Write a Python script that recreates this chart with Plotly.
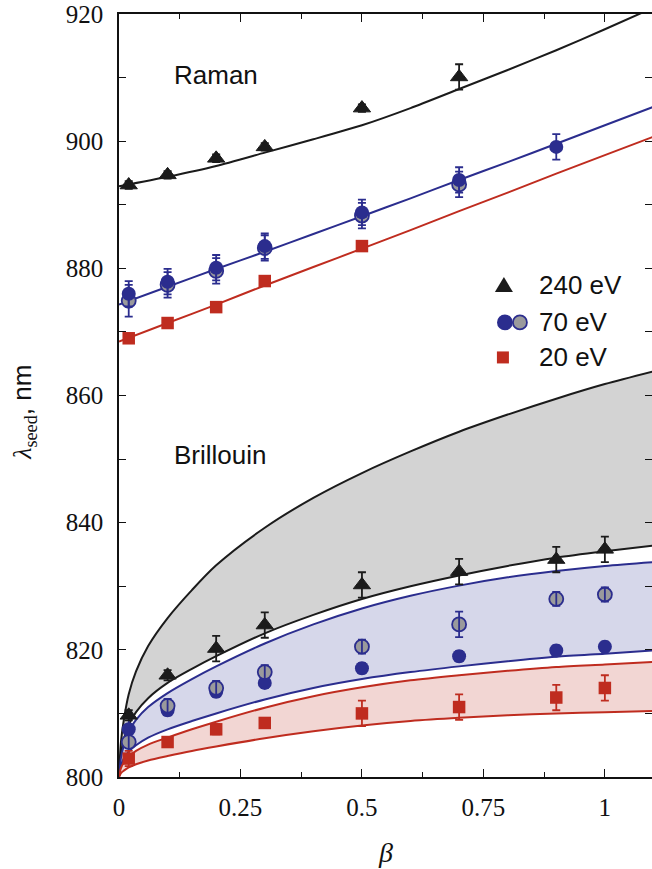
import plotly.graph_objects as go

# ---------------- data ----------------
# Raman measurements
ram_beta_240 = [0.02, 0.1, 0.2, 0.3, 0.5, 0.7]
ram_240 = [893.1, 894.7, 897.3, 899.1, 905.2, 910.1]
ram_240_err = [0.6, 0.6, 0.6, 0.6, 0.6, 2.0]

ram_beta_70 = [0.02, 0.1, 0.2, 0.3, 0.5, 0.7, 0.9]
ram_70 = [876.0, 877.9, 880.1, 883.5, 888.8, 893.9, 899.1]
ram_70_err = [2.0, 2.0, 2.0, 2.0, 2.0, 2.0, 2.0]

ram_beta_70g = [0.02, 0.1, 0.2, 0.3, 0.5, 0.7]
ram_70g = [874.9, 877.4, 879.6, 883.2, 888.3, 893.2]
ram_70g_err = [2.5, 2.0, 2.0, 2.0, 2.0, 2.0]

ram_beta_20 = [0.02, 0.1, 0.2, 0.3, 0.5]
ram_20 = [869.0, 871.4, 873.9, 878.0, 883.5]
ram_20_err = [0.6, 0.6, 0.6, 0.6, 0.6]

# Brillouin measurements
bri_beta = [0.02, 0.1, 0.2, 0.3, 0.5, 0.7, 0.9, 1.0]
bri_240 = [809.7, 816.0, 820.2, 823.9, 830.2, 832.3, 834.2, 835.8]
bri_240_err = [0.8, 0.8, 2.0, 2.0, 2.0, 2.0, 2.0, 2.0]
bri_70 = [807.5, 810.5, 813.4, 814.8, 817.1, 819.0, 819.9, 820.5]
bri_70_err = [1.8, 0.8, 0.8, 0.8, 0.8, 0.8, 0.8, 0.8]
bri_70g = [805.5, 811.2, 814.0, 816.5, 820.5, 824.0, 828.0, 828.7]
bri_70g_err = [2.2, 1.1, 1.1, 1.1, 1.1, 2.0, 1.1, 1.1]
bri_20 = [802.9, 805.5, 807.5, 808.5, 810.0, 811.0, 812.5, 814.0]
bri_20_err = [1.2, 0.8, 0.8, 0.8, 2.0, 2.0, 2.0, 2.0]

# Raman model curves
fit_ram_beta = [0, 0.1, 0.2, 0.3, 0.4, 0.5, 0.6, 0.7, 0.8, 0.9, 1.0, 1.1]
fit_ram_240 = [892.9, 894.4, 896.1, 898.2, 900.3, 902.5, 905.2, 908.2, 911.2, 914.3, 917.6, 921.0]
fit_ram_70 = [874.3, 877.1, 879.9, 882.6, 885.4, 888.2, 891.0, 893.9, 896.7, 899.6, 902.5, 905.4]
fit_ram_20 = [868.5, 871.4, 874.3, 877.3, 880.2, 883.1, 886.0, 889.0, 891.9, 894.9, 897.8, 900.7]

# Brillouin model bands
fit_bri_beta = [0, 0.004, 0.01, 0.02, 0.035, 0.06, 0.1, 0.15, 0.2, 0.3, 0.4, 0.5,
                0.6, 0.7, 0.8, 0.9, 1.0, 1.1]
fit_bri_240_hi = [800, 805.5, 809.0, 813.0, 816.6, 820.6, 825.0, 829.4, 833.3, 839.2, 843.9, 847.8,
                  851.2, 854.3, 857.0, 859.5, 861.8, 863.8]
fit_bri_240_lo = [800, 803.6, 805.8, 808.2, 810.2, 812.4, 814.8, 817.0, 819.0, 822.6, 825.5, 828.0,
                  830.0, 831.7, 833.2, 834.5, 835.5, 836.4]
fit_bri_70_hi = [800, 803.0, 805.0, 807.2, 809.0, 811.0, 813.2, 815.4, 817.4, 821.0, 824.0, 826.5,
                 828.5, 830.1, 831.4, 832.4, 833.2, 833.8]
fit_bri_70_lo = [800, 801.8, 802.9, 804.0, 805.0, 806.2, 807.5, 808.8, 810.0, 812.2, 814.0, 815.4,
                 816.5, 817.4, 818.2, 818.9, 819.4, 819.9]
fit_bri_20_hi = [800, 801.4, 802.3, 803.2, 804.1, 805.1, 806.2, 807.5, 808.7, 810.9, 812.7, 814.1,
                 815.2, 816.0, 816.7, 817.3, 817.7, 818.1]
fit_bri_20_lo = [800, 800.6, 801.0, 801.5, 802.0, 802.6, 803.3, 804.1, 804.8, 806.1, 807.2, 808.1,
                 808.8, 809.3, 809.7, 810.0, 810.2, 810.4]

x_tickvals = [0, 0.25, 0.5, 0.75, 1.0]
x_ticktext = ["0", "0.25", "0.5", "0.75", "1"]
y_tickvals = [800, 820, 840, 860, 880, 900, 920]

legend_labels = ["240 eV", "70 eV", "20 eV"]

# ---------------- style ----------------
BLACK = "#1b1b1b"
BLUE = "#2b2d8e"
RED = "#bf2c1f"
GRAYM = "#9a9a9c"
FILL_K = "#d3d3d3"
FILL_B = "#d6d7ea"
FILL_R = "#f2d6d3"

fig = go.Figure()

def band(lo, hi, color, fill):
    fig.add_trace(go.Scatter(x=fit_bri_beta, y=lo, mode="lines",
                             line=dict(color=color, width=2, shape="spline", smoothing=0.8),
                             hoverinfo="skip", showlegend=False))
    fig.add_trace(go.Scatter(x=fit_bri_beta, y=hi, mode="lines", fill="tonexty",
                             fillcolor=fill,
                             line=dict(color=color, width=2, shape="spline", smoothing=0.8),
                             hoverinfo="skip", showlegend=False))

band(fit_bri_240_lo, fit_bri_240_hi, BLACK, FILL_K)
band(fit_bri_70_lo, fit_bri_70_hi, BLUE, FILL_B)
band(fit_bri_20_lo, fit_bri_20_hi, RED, FILL_R)

for yv, c in [(fit_ram_240, BLACK), (fit_ram_70, BLUE), (fit_ram_20, RED)]:
    fig.add_trace(go.Scatter(x=fit_ram_beta, y=yv, mode="lines",
                             line=dict(color=c, width=2, shape="spline", smoothing=0.6),
                             hoverinfo="skip", showlegend=False))

def pts(x, y, err, symbol, size, fillc, linec, ecolor, lw=0, bars_on_top=False):
    fig.add_trace(go.Scatter(
        x=x, y=y, mode="markers",
        marker=dict(symbol=symbol, size=size, color=fillc,
                    line=dict(color=linec, width=lw)),
        error_y=None if bars_on_top else dict(type="data", array=err, color=ecolor,
                                              thickness=1.8, width=4),
        showlegend=False))
    if bars_on_top:
        fig.add_trace(go.Scatter(
            x=x, y=y, mode="markers",
            marker=dict(size=1, color="rgba(0,0,0,0)"),
            error_y=dict(type="data", array=err, color=ecolor, thickness=1.8, width=4),
            hoverinfo="skip", showlegend=False))

# Raman points
pts(ram_beta_70g, ram_70g, ram_70g_err, "circle", 14, GRAYM, BLUE, BLUE, 1.8, True)
pts(ram_beta_70, ram_70, ram_70_err, "circle", 14, BLUE, BLUE, BLUE)
pts(ram_beta_20, ram_20, ram_20_err, "square", 12.5, RED, RED, RED)
pts(ram_beta_240, ram_240, ram_240_err, "triangle-up", 15, BLACK, BLACK, BLACK, 1)
# Brillouin points
pts(bri_beta, bri_70, bri_70_err, "circle", 14, BLUE, BLUE, BLUE)
pts(bri_beta, bri_70g, bri_70g_err, "circle", 14, GRAYM, BLUE, BLUE, 1.8, True)
pts(bri_beta, bri_20, bri_20_err, "square", 12.5, RED, RED, RED)
pts(bri_beta, bri_240, bri_240_err, "triangle-up", 15, BLACK, BLACK, BLACK, 1)

# ---------------- layout ----------------
W, H = 652, 869
L, R, T, B = 119.3, 0, 14, 92.3
pw, ph = W - L - R, H - T - B

def px(xp):
    return (xp - L) / pw

def py(yp):
    return (H - B - yp) / ph

sans = "Liberation Sans, Arial, sans-serif"
serif = "Liberation Serif, Times New Roman, serif"

annotations = [
    dict(x=0.199, y=910.4, xref="x", yref="y", text="Raman", showarrow=False,
         xanchor="center", yanchor="middle",
         font=dict(family=sans, size=26, color="#111")),
    dict(x=0.208, y=850.6, xref="x", yref="y", text="Brillouin", showarrow=False,
         xanchor="center", yanchor="middle",
         font=dict(family=sans, size=26, color="#111")),
    dict(x=px(386), y=py(852), xref="paper", yref="paper", text="<i>β</i>", showarrow=False,
         xanchor="center", yanchor="middle",
         font=dict(family=serif, size=28, color="#111")),
    dict(x=px(24), y=py(412), xref="paper", yref="paper", textangle=-90, showarrow=False,
         xanchor="center", yanchor="middle",
         text="<i>λ</i><sub>seed</sub><span style='font-family:Liberation Sans'>, nm</span>",
         font=dict(family=serif, size=26, color="#111")),
]
leg_y = [285, 322.3, 357.3]
for lab, yy in zip(legend_labels, leg_y):
    annotations.append(dict(x=px(537), y=py(yy), xref="paper", yref="paper", text=lab,
                            xanchor="left", yanchor="middle", showarrow=False,
                            font=dict(family=sans, size=26, color="#111")))

shapes = []
# triangle legend key
tx, ty = 504, 285
shapes.append(dict(type="path", xref="paper", yref="paper",
                   path=f"M {px(tx-9)},{py(ty+7)} L {px(tx+9)},{py(ty+7)} L {px(tx)},{py(ty-8)} Z",
                   fillcolor=BLACK, line=dict(width=0)))
# circles
for cx, fc in [(505, BLUE), (520, GRAYM)]:
    shapes.append(dict(type="circle", xref="paper", yref="paper",
                       x0=px(cx-7), x1=px(cx+7), y0=py(322.3+7), y1=py(322.3-7),
                       fillcolor=fc, line=dict(color=BLUE, width=1.8)))
# square
shapes.append(dict(type="rect", xref="paper", yref="paper",
                   x0=px(503-6), x1=px(503+6), y0=py(357.3+6), y1=py(357.3-6),
                   fillcolor=RED, line=dict(width=0)))

fig.update_layout(
    width=W, height=H,
    margin=dict(l=L, r=R, t=T, b=B, pad=0),
    plot_bgcolor="white", paper_bgcolor="white",
    showlegend=False,
    annotations=annotations, shapes=shapes,
    xaxis=dict(range=[0, 1.097], tickvals=x_tickvals, ticktext=x_ticktext,
               ticks="inside", ticklen=8, tickwidth=1.3, tickcolor="#111",
               minor=dict(dtick=0.125, tick0=0, ticks="inside", ticklen=5, tickwidth=1.3, tickcolor="#111"),
               showline=True, linecolor="#111", linewidth=1.5, mirror="ticks",
               showgrid=False, zeroline=False, ticklabelstandoff=7,
               tickfont=dict(family=serif, size=25, color="#111")),
    yaxis=dict(range=[800, 920], tickvals=y_tickvals,
               ticks="inside", ticklen=7, tickwidth=1.3, tickcolor="#111",
               minor=dict(dtick=10, tick0=800, ticks="inside", ticklen=7, tickwidth=1.3, tickcolor="#111"),
               showline=True, linecolor="#111", linewidth=1.5,
               showgrid=False, zeroline=False, ticklabelstandoff=9,
               tickfont=dict(family=serif, size=25, color="#111")),
    yaxis2=dict(range=[800, 920], overlaying="y", side="right", anchor="x",
                tickvals=y_tickvals, showticklabels=False,
                ticks="inside", ticklen=7, tickwidth=1.3, tickcolor="#111",
                minor=dict(dtick=10, tick0=800, ticks="inside", ticklen=7, tickwidth=1.3, tickcolor="#111"),
                showline=False, showgrid=False, zeroline=False),
)
# invisible trace to activate the right-hand tick axis
fig.add_trace(go.Scatter(x=[0], y=[800], yaxis="y2", mode="markers",
                         marker=dict(opacity=0), hoverinfo="skip", showlegend=False))

fig.write_html("out.html", config={"displayModeBar": False},
               post_script="document.body.style.margin='0';document.body.style.overflow='hidden';")
